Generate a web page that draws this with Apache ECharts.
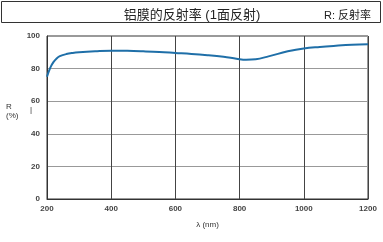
<!DOCTYPE html>
<html>
<head>
<meta charset="utf-8">
<script src="https://cdn.jsdelivr.net/npm/echarts@6/dist/echarts.min.js"></script>
<style>
  html, body { margin: 0; padding: 0; background: #fff; }
  #chart { width: 383px; height: 242px; }
</style>
</head>
<body>
<div id="chart"></div>
<script>
// 波长 (nm) / 反射率 (%)
var wavelength = [200, 210, 220, 230, 240, 260, 280, 300, 350, 400, 450, 500, 550, 600, 650, 700, 750, 790, 820, 850, 890, 950, 1000, 1050, 1100, 1150, 1200];
var reflect    = [75, 80.5, 84, 86.2, 87.6, 88.9, 89.6, 90, 90.6, 91, 90.9, 90.6, 90.2, 89.6, 89, 88.2, 87.2, 86.1, 85.4, 85.7, 87.5, 90.6, 92.4, 93.3, 94, 94.6, 95];
var xTicks = [200, 400, 600, 800, 1000, 1200];
var yTicks = [0, 20, 40, 60, 80, 100];

var pts = wavelength.map(function (w, i) { return [w, reflect[i]]; });

var myChart = echarts.init(document.getElementById('chart'));
var font = 'Liberation Sans, Noto Sans CJK SC, sans-serif';
myChart.setOption({
    animation: false,
    backgroundColor: '#fff',
    grid: {
        left: 47, right: 15, top: 36, bottom: 43,
        show: true, borderColor: '#333', borderWidth: 1
    },
    title: [
        { text: '铝膜的反射率 (1面反射)', left: 187, top: 4, textAlign: 'center',
          textStyle: { fontSize: 13, fontWeight: 'normal', color: '#222', fontFamily: font } },
        { text: 'R: 反射率', right: 7, top: 5,
          textStyle: { fontSize: 11, fontWeight: 'normal', color: '#222', fontFamily: font } }
    ],
    graphic: [
        { type: 'rect', shape: { x: 1.5, y: 1.5, width: 379, height: 21 },
          style: { fill: 'none', stroke: '#333', lineWidth: 1 } },
        { type: 'text', left: 6, top: 102,
          style: { text: 'R\n(%)', fill: '#333', font: '8px ' + font, align: 'center', lineHeight: 9 } },
        { type: 'text', left: 30, top: 106,
          style: { text: '|', fill: '#333', font: '8px ' + font } }
    ],
    xAxis: {
        type: 'value', min: 200, max: 1200, interval: 200,
        name: 'λ (nm)', nameLocation: 'middle', nameGap: 22,
        nameTextStyle: { fontSize: 8, color: '#333', fontFamily: font },
        axisLine: { show: true, lineStyle: { color: '#333' } },
        axisTick: { show: false },
        axisLabel: { fontSize: 8, fontWeight: 'bold', color: '#444', fontFamily: font, margin: 6,
            formatter: function (v) { return xTicks.indexOf(v) >= 0 ? String(v) : ''; } },
        splitLine: { show: true, lineStyle: { color: '#444', width: 1 } }
    },
    yAxis: {
        type: 'value', min: 0, max: 100, interval: 20,
        axisLine: { show: true, lineStyle: { color: '#333' } },
        axisTick: { show: false },
        axisLabel: { fontSize: 8, fontWeight: 'bold', color: '#444', fontFamily: font, margin: 7,
            formatter: function (v) { return yTicks.indexOf(v) >= 0 ? String(v) : ''; } },
        splitLine: { show: true, lineStyle: { color: '#999', width: 1 } }
    },
    series: [{
        type: 'line', data: pts, smooth: 0.4, showSymbol: false,
        lineStyle: { color: '#1f6fa8', width: 2 }
    }]
});
</script>
</body>
</html>
